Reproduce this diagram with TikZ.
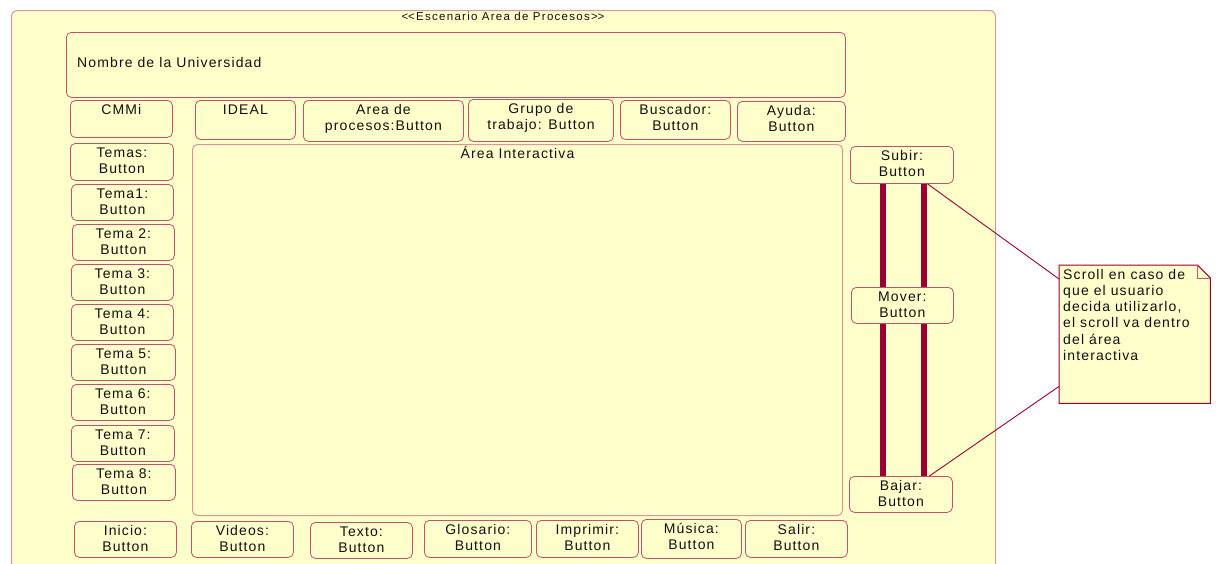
\documentclass[tikz,border=0pt]{standalone}
\usepackage{fontspec}
\usetikzlibrary{calc}
\newfontfamily\uifont{Liberation Sans}[LetterSpace=8]
\newfontfamily\uititlefont{Liberation Sans}[LetterSpace=11]
\definecolor{uifill}{HTML}{FFFFCC}
\definecolor{uiedge}{HTML}{C4506E}
\definecolor{uiframe}{HTML}{D49A9A}
\definecolor{uimaroon}{HTML}{990033}
\definecolor{uitextcol}{HTML}{101010}

\tikzset{
  uitext/.style={font=\uifont\fontsize{14}{16.5}\selectfont, text=uitextcol, inner sep=0pt},
  btn/.style={draw=uiedge, line width=0.8pt, fill=uifill, rounded corners=5pt,
    inner sep=0pt, uitext},
  framebox/.style={draw=uiframe, line width=1pt, fill=uifill, rounded corners=6pt, inner sep=0pt},
  panelbox/.style={draw=uiedge, line width=0.8pt, fill=uifill, rounded corners=5pt, inner sep=0pt},
  areabox/.style={draw=uiframe, line width=1pt, fill=uifill, rounded corners=5pt, inner sep=0pt},
  notebox/.style={inner sep=0pt, minimum width=151pt, minimum height=138pt},
  noteoutline/.style={draw=uimaroon, line width=1pt, fill=uifill, line join=miter},
  notefold/.style={draw=uiedge, line width=0.8pt},
  scrollbar/.style={draw=uimaroon, line width=6pt, line cap=butt},
  notelink/.style={draw=uimaroon, line width=0.9pt},
}

% button: name, left, top, right, bottom, label
\newcommand\uibtn[6]{%
  \pgfmathsetmacro\uiW{#4-#2}\pgfmathsetmacro\uiH{#5-#3}%
  \node[btn, anchor=north west] (#1) at (#2,#3)
    {\parbox[c][\uiH pt][t]{\uiW pt}{\centering\baselineskip=16.5pt\rule{0pt}{14pt}#6}};}

\begin{document}
\begin{tikzpicture}[x=1pt,y=-1pt]
\useasboundingbox (0,0) rectangle (1218,563);
\clip (0,0) rectangle (1218,563);
\fill[white] (0,0) rectangle (1218,563);

% outer scenario frame (runs past the lower edge)
\node[framebox, anchor=north west, minimum width=984pt, minimum height=580pt] (frame) at (11,10) {};
\node[font=\uititlefont\fontsize{11.5}{13}\selectfont, text=uitextcol, inner sep=0pt, anchor=base]
  (title) at (503,20) {<\kern0pt<Escenario Area de Procesos>\kern0pt>};

% header panel
\node[panelbox, anchor=north west, minimum width=779pt, minimum height=65pt] (nombre) at (66,32) {};
\node[uitext, anchor=base west] (nombretxt) at ($(nombre.north west)+(11,35)$) {Nombre de la Universidad};

% top menu
\uibtn{cmmi}{70}{100}{172}{137}{CMMi}
\uibtn{ideal}{195}{100}{295}{139}{IDEAL}
\uibtn{areaproc}{303}{100}{463}{141}{Area de\\procesos:Button}
\uibtn{grupo}{468}{99}{613}{141}{Grupo de\\trabajo: Button}
\uibtn{buscador}{620}{100}{730}{139}{Buscador:\\Button}
\uibtn{ayuda}{737}{101}{845}{141}{Ayuda:\\Button}

% left menu
\uibtn{temas}{70}{143}{173}{180}{Temas:\\Button}
\uibtn{tema1}{71}{184}{173}{220}{Tema1:\\Button}
\uibtn{tema2}{72}{224}{174}{260}{Tema 2:\\Button}
\uibtn{tema3}{71}{264}{173}{300}{Tema 3:\\Button}
\uibtn{tema4}{71}{304}{173}{340}{Tema 4:\\Button}
\uibtn{tema5}{71}{344}{175}{380}{Tema 5:\\Button}
\uibtn{tema6}{71}{384}{174}{420}{Tema 6:\\Button}
\uibtn{tema7}{71}{425}{174}{461}{Tema 7:\\Button}
\uibtn{tema8}{72}{464}{175}{500}{Tema 8:\\Button}

% interactive area
\node[areabox, anchor=north west, minimum width=650pt, minimum height=371pt] (area) at (192,144) {};
\node[uitext, anchor=base] (areatxt) at ($(area.north)+(0,14)$) {Área Interactiva};

% scroll controls
\uibtn{subir}{850}{146}{953}{183}{Subir:\\Button}
\uibtn{mover}{851}{287}{953}{323}{Mover:\\Button}
\uibtn{bajar}{849}{476}{952}{512}{Bajar:\\Button}
\draw[scrollbar] ($(subir.south)+(-18.5,0)$) -- ($(mover.north)+(-19,0)$);
\draw[scrollbar] ($(subir.south)+(22,0)$) -- ($(mover.north)+(21.5,0)$);
\draw[scrollbar] ($(mover.south)+(-19,0)$) -- ($(bajar.north)+(-17.5,0)$);
\draw[scrollbar] ($(mover.south)+(21.5,0)$) -- ($(bajar.north)+(23,0)$);

% bottom menu
\uibtn{inicio}{74}{521}{176}{557}{Inicio:\\Button}
\uibtn{videos}{191}{521}{293}{557}{Videos:\\Button}
\uibtn{texto}{310}{522}{412}{558}{Texto:\\Button}
\uibtn{glosario}{424}{520}{531}{557}{Glosario:\\Button}
\uibtn{imprimir}{536}{520}{638}{557}{Imprimir:\\Button}
\uibtn{musica}{641}{519}{741}{558}{Música:\\Button}
\uibtn{salir}{745}{520}{847}{557}{Salir:\\Button}

% note with folded corner
\node[notebox, anchor=north west] (note) at (1059,265) {};
\path[noteoutline] (note.north west) -- ($(note.north east)+(-13,0)$) -- ($(note.north east)+(0,13)$)
  -- (note.south east) -- (note.south west) -- cycle;
\draw[notefold] ($(note.north east)+(-13,0)$) -- ($(note.north east)+(-13,13)$) -- ($(note.north east)+(0,13)$);
\node[uitext, anchor=north west] (notetxt) at ($(note.north west)+(4,0)$)
  {\parbox[t]{146pt}{\raggedright\baselineskip=16.2pt\rule{0pt}{14pt}Scroll en caso de\\
   que el usuario\\ decida utilizarlo,\\ el scroll va dentro\\ del área\\ interactiva}};
\draw[notelink] ($(subir.south)+(25.5,0)$) -- ($(note.north west)+(0,14)$);
\draw[notelink] ($(bajar.north)+(28.5,0)$) -- ($(note.south west)+(0,-17)$);
\end{tikzpicture}
\end{document}
